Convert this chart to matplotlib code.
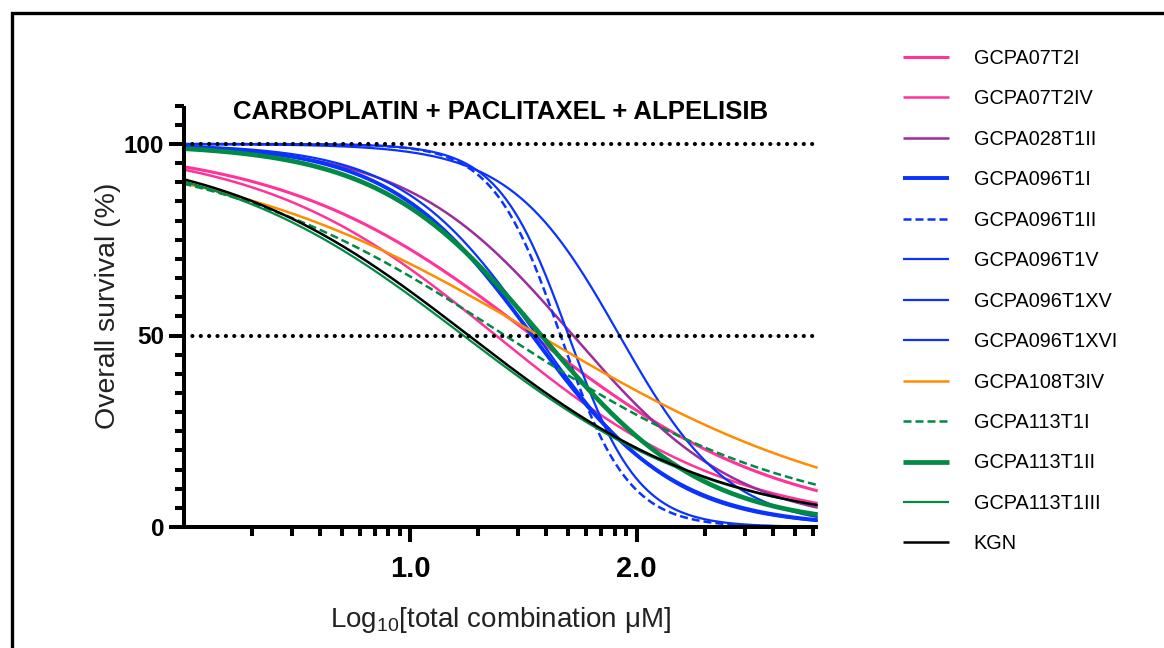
import numpy as np
import matplotlib
matplotlib.use("Agg")
import matplotlib.pyplot as plt
from matplotlib.patches import Rectangle
from matplotlib.ticker import FixedLocator, FixedFormatter, NullFormatter

# ---------------- data (4-parameter logistic fits) -------------
names = ["GCPA07T2I", "GCPA07T2IV", "GCPA028T1II", "GCPA096T1I", "GCPA096T1II",
         "GCPA096T1V", "GCPA096T1XV", "GCPA096T1XVI", "GCPA108T3IV", "GCPA113T1I",
         "GCPA113T1II", "GCPA113T1III", "KGN"]
top_pct = [100, 100, 100, 100, 100, 100, 100, 100, 100, 100, 100, 100, 100]
bottom_pct = [0, 0, 0, 0, 0, 0, 0, 0, 0, 0, 0, 0, 0]
log_ec50 = [1.54, 1.38, 1.72, 1.54, 1.665, 1.56, 1.70, 1.925, 1.57, 1.42, 1.58, 1.236, 1.259]
hill_slope = [0.78, 0.83, 1.18, 1.38, 2.9, 1.45, 2.8, 1.8, 0.60, 0.66, 1.21, 0.78, 0.79]
log_x_range = [0.0, 2.8]
ref_levels = [100, 50]
y_major = [0, 50, 100]
y_major_labels = ["0", "50", "100"]
x_major = [1.0, 2.0]
x_major_labels = ["1.0", "2.0"]

# ---------------- styles ----------------
PINK = "#FF3399"
PURPLE = "#9B2D9B"
BLUE = "#0A33FF"
ORANGE = "#FF8C00"
GREEN = "#008A45"
colors = [PINK, PINK, PURPLE, BLUE, BLUE, BLUE, BLUE, BLUE, ORANGE, GREEN, GREEN, GREEN, "black"]
widths = [2.2, 1.8, 1.8, 2.8, 1.8, 1.6, 1.6, 1.6, 1.8, 1.8, 3.4, 1.6, 1.8]
styles = ["-", "-", "-", "-", (0, (3.2, 1.6)), "-", "-", "-", "-", (0, (3.2, 1.6)), "-", "-", "-"]

plt.rcParams["font.family"] = ["Liberation Sans", "DejaVu Sans"]
plt.rcParams["mathtext.fontset"] = "custom"
plt.rcParams["mathtext.rm"] = "Liberation Sans"
plt.rcParams["mathtext.it"] = "Liberation Sans:italic"
plt.rcParams["mathtext.bf"] = "Liberation Sans:bold"

fig = plt.figure(figsize=(11.64, 6.48), dpi=100)
ax = fig.add_axes([183.5 / 1164, 1 - 527 / 648, (817.7 - 183.5) / 1164, (527 - 105.7) / 648])

lx = np.linspace(log_x_range[0], log_x_range[1], 600)
x = 10 ** lx
for i, nm in enumerate(names):
    y = bottom_pct[i] + (top_pct[i] - bottom_pct[i]) / (1 + 10 ** ((lx - log_ec50[i]) * hill_slope[i]))
    ax.plot(x, y, color=colors[i], lw=widths[i], linestyle=styles[i], label=nm,
            solid_capstyle="butt", zorder=2)

for lev in ref_levels:
    ax.plot([10 ** log_x_range[0], 10 ** log_x_range[1]], [lev, lev], color="black",
            lw=3.0, linestyle=(0, (0.01, 2.0)), dash_capstyle="round", zorder=3, clip_on=False)

ax.set_xscale("log")
ax.set_xlim(10 ** log_x_range[0], 10 ** log_x_range[1])
ax.set_ylim(0, 110)

ax.xaxis.set_major_locator(FixedLocator([10 ** v for v in x_major]))
ax.xaxis.set_major_formatter(FixedFormatter(x_major_labels))
minors = [k * 10 ** d for d in range(0, 3) for k in range(2, 10) if k * 10 ** d < 10 ** log_x_range[1]]
ax.xaxis.set_minor_locator(FixedLocator(minors))
ax.xaxis.set_minor_formatter(NullFormatter())

ax.yaxis.set_major_locator(FixedLocator(y_major))
ax.yaxis.set_major_formatter(FixedFormatter(y_major_labels))
ax.yaxis.set_minor_locator(FixedLocator(np.arange(0, 111, 5)))

for s in ["top", "right"]:
    ax.spines[s].set_visible(False)
for s in ["left", "bottom"]:
    ax.spines[s].set_linewidth(2.9)
    ax.spines[s].set_capstyle("butt")

ax.tick_params(which="major", direction="out", length=11, width=2.9, color="black")
ax.tick_params(which="minor", direction="out", length=6.5, width=2.9, color="black")
ax.tick_params(axis="y", which="major", labelsize=17.5, pad=3)
ax.tick_params(axis="x", which="major", labelsize=21, pad=9)
for lab in ax.get_xticklabels() + ax.get_yticklabels():
    lab.set_fontweight("bold")

ax.text(0.5, 0.985, "CARBOPLATIN + PACLITAXEL + ALPELISIB", transform=ax.transAxes,
        ha="center", va="center", fontsize=18.5, fontweight="bold")
ax.set_ylabel("Overall survival (%)", fontsize=20.5, color="#222222", labelpad=2)
ax.yaxis.set_label_coords(-0.098, 0.525)
ax.set_xlabel(r"Log$_{\mathregular{10}}$[total combination μM]", fontsize=20, color="#222222", labelpad=16)

leg = ax.legend(loc="upper left", bbox_to_anchor=(903 / 1164, 1 - 49 / 648), bbox_transform=fig.transFigure,
                frameon=False, fontsize=14.3, handlelength=2.3, handletextpad=1.25,
                labelspacing=1.08, borderpad=0, borderaxespad=0)

fig.add_artist(Rectangle((12 / 1164, -0.1), 1.2, 1.1 - 13 / 648 + 0.0, transform=fig.transFigure,
                         fill=False, lw=2.4, edgecolor="black", clip_on=False))

fig.savefig("out.png", dpi=100, facecolor="white")
